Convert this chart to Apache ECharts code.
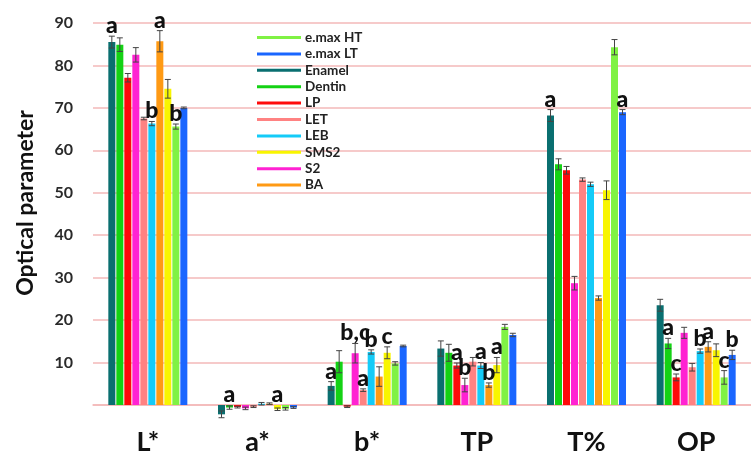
<!DOCTYPE html>
<html>
<head>
<meta charset="utf-8">
<script src="https://cdn.jsdelivr.net/npm/echarts@6/dist/echarts.min.js"></script>
<style>html,body{margin:0;padding:0;background:#fff;}#chart{width:751px;height:470px;}</style>
</head>
<body>
<div id="chart"></div>
<script>
// Categories (optical parameters)
const categories = ['L*', 'a*', 'b*', 'TP', 'T%', 'OP'];
// Materials in bar order within each group
const materials = ['Enamel', 'Dentin', 'LP', 'S2', 'LET', 'LEB', 'BA', 'SMS2', 'e.max HT', 'e.max LT'];
const legendOrder = ['e.max HT', 'e.max LT', 'Enamel', 'Dentin', 'LP', 'LET', 'LEB', 'SMS2', 'S2', 'BA'];
const yTicks = [0, 10, 20, 30, 40, 50, 60, 70, 80, 90];

// Mean values per material, one per category
const enamel  = [85.5, -2.2,  4.5, 13.3, 68.2, 23.5];
const dentin  = [84.9, -0.6, 10.2, 12.3, 56.7, 14.5];
const lp      = [77.1, -0.5, -0.4,  9.3, 55.3,  6.5];
const s2      = [82.5, -0.8, 12.2,  4.7, 28.7, 17.0];
const letM    = [67.5, -0.4,  3.5, 10.2, 53.1,  8.9];
const leb     = [66.3,  0.3, 12.5,  9.3, 52.0, 12.7];
const ba      = [85.7,  0.3,  6.7,  4.7, 25.2, 13.7];
const sms2    = [74.5, -1.0, 12.3,  9.4, 50.6, 12.9];
const emaxHT  = [65.6, -0.9,  9.8, 18.4, 84.3,  6.5];
const emaxLT  = [70.0, -0.6, 13.9, 16.5, 69.0, 11.8];

// Standard deviations (error bars)
const enamelErr = [1.4, 0.8, 1.0, 1.8, 1.4, 1.4];
const dentinErr = [1.6, 0.4, 2.6, 2.0, 1.3, 1.2];
const lpErr     = [1.0, 0.2, 0.2, 0.6, 0.9, 0.8];
const s2Err     = [1.7, 0.3, 2.3, 1.6, 1.6, 1.3];
const letErr    = [0.3, 0.2, 0.3, 1.0, 0.4, 0.9];
const lebErr    = [0.5, 0.3, 0.5, 0.7, 0.5, 0.5];
const baErr     = [2.5, 0.2, 2.3, 0.5, 0.5, 1.2];
const sms2Err   = [2.2, 0.3, 1.4, 1.8, 2.2, 1.5];
const htErr     = [0.6, 0.3, 0.4, 0.6, 1.8, 1.6];
const ltErr     = [0.2, 0.2, 0.2, 0.4, 0.6, 1.1];

// Significance letters: [category index, material index, text]
const letters = [
  [0, 0, 'a'], [0, 5, 'b'], [0, 6, 'a'], [0, 8, 'b'],
  [1, 1, 'a'], [1, 7, 'a'],
  [2, 0, 'a'], [2, 3, 'b,c'], [2, 4, 'a'], [2, 5, 'b'], [2, 7, 'c'],
  [3, 2, 'a'], [3, 3, 'b'], [3, 5, 'a'], [3, 6, 'b'], [3, 7, 'a'],
  [4, 0, 'a'], [4, 9, 'a'],
  [5, 1, 'a'], [5, 2, 'c'], [5, 5, 'b'], [5, 6, 'a'], [5, 8, 'c'], [5, 9, 'b']
];

const values = [enamel, dentin, lp, s2, letM, leb, ba, sms2, emaxHT, emaxLT];
const errs = [enamelErr, dentinErr, lpErr, s2Err, letErr, lebErr, baErr, sms2Err, htErr, ltErr];
const colors = ['#0a6f70', '#14d214', '#ff0a0a', '#ff22d2', '#ff8282', '#14cbf8', '#ff9a14', '#f8f500', '#80f244', '#1a66ff'];

const BAR_W = 7, STEP = 8, FONT = 'Lato, "Liberation Sans", Arial, sans-serif';

const barSeries = materials.map((m, i) => ({
  name: m, type: 'bar', barWidth: BAR_W, barGap: '14.3%', clip: false,
  itemStyle: { color: colors[i] }, data: values[i], z: 2
}));

const errData = [];
materials.forEach((m, i) => {
  categories.forEach((c, j) => {
    errData.push([j, i, values[i][j] - errs[i][j], values[i][j] + errs[i][j]]);
  });
});

const errSeries = {
  type: 'custom', clip: false, z: 3, silent: true,
  encode: { x: 0, y: [2, 3] },
  data: errData,
  renderItem: (params, api) => {
    const off = (api.value(1) - 4.5) * STEP;
    const hi = api.coord([api.value(0), api.value(3)]);
    const lo = api.coord([api.value(0), api.value(2)]);
    const x = hi[0] + off;
    const st = { stroke: '#444', lineWidth: 1 };
    return { type: 'group', children: [
      { type: 'line', shape: { x1: x, y1: hi[1], x2: x, y2: lo[1] }, style: st },
      { type: 'line', shape: { x1: x - 3, y1: hi[1], x2: x + 3, y2: hi[1] }, style: st },
      { type: 'line', shape: { x1: x - 3, y1: lo[1], x2: x + 3, y2: lo[1] }, style: st }
    ]};
  }
};

const letterData = letters.map(l => {
  const v = values[l[1]][l[0]], e = errs[l[1]][l[0]];
  return [l[0], l[1], Math.max(v + e, 0), l[2]];
});

const letterSeries = {
  type: 'custom', clip: false, z: 4, silent: true,
  encode: { x: 0, y: 2 },
  data: letterData,
  renderItem: (params, api) => {
    const off = (api.value(1) - 4.5) * STEP;
    const p = api.coord([api.value(0), api.value(2)]);
    return { type: 'text', style: {
      text: letterData[params.dataIndex][3], x: p[0] + off, y: p[1] + 1,
      textAlign: 'center', textVerticalAlign: 'bottom',
      font: '900 23px ' + FONT, fill: '#111'
    }};
  }
};

const chart = echarts.init(document.getElementById('chart'), null, { renderer: 'canvas' });
chart.setOption({
  animation: false,
  backgroundColor: '#fff',
  grid: { left: 93, width: 660, top: 23, bottom: 65 },
  legend: {
    orient: 'vertical', left: 252, top: 25,
    data: legendOrder, icon: 'rect', itemWidth: 44, itemHeight: 3, itemGap: 1.4,
    textStyle: { fontFamily: FONT, fontWeight: 'bold', fontSize: 13.5, color: '#222', lineHeight: 15, padding: [0, 0, 0, -1] }
  },
  xAxis: {
    type: 'category', data: categories,
    axisLine: { show: true, lineStyle: { color: '#f3b9b9', width: 1.5 } },
    axisTick: { show: false },
    axisLabel: { fontFamily: FONT, fontWeight: 'bold', fontSize: 27, color: '#111', margin: 24 }
  },
  yAxis: {
    type: 'value', min: yTicks[0], max: yTicks[yTicks.length - 1], interval: 10,
    axisLine: { show: false }, axisTick: { show: false },
    splitLine: { lineStyle: { color: '#f3b9b9', width: 1.5 } },
    axisLabel: { fontFamily: FONT, fontWeight: 'bold', fontSize: 16, color: '#2a2a2a', margin: 20,
      formatter: v => (v === 0 ? '' : String(v)) }
  },
  graphic: [{
    type: 'text', x: 26, y: 203, rotation: Math.PI / 2,
    style: { text: 'Optical parameter', font: 'bold 23px ' + FONT, fill: '#111',
      textAlign: 'center', textVerticalAlign: 'middle' }
  }],
  series: barSeries.concat([errSeries, letterSeries])
});
</script>
</body>
</html>
